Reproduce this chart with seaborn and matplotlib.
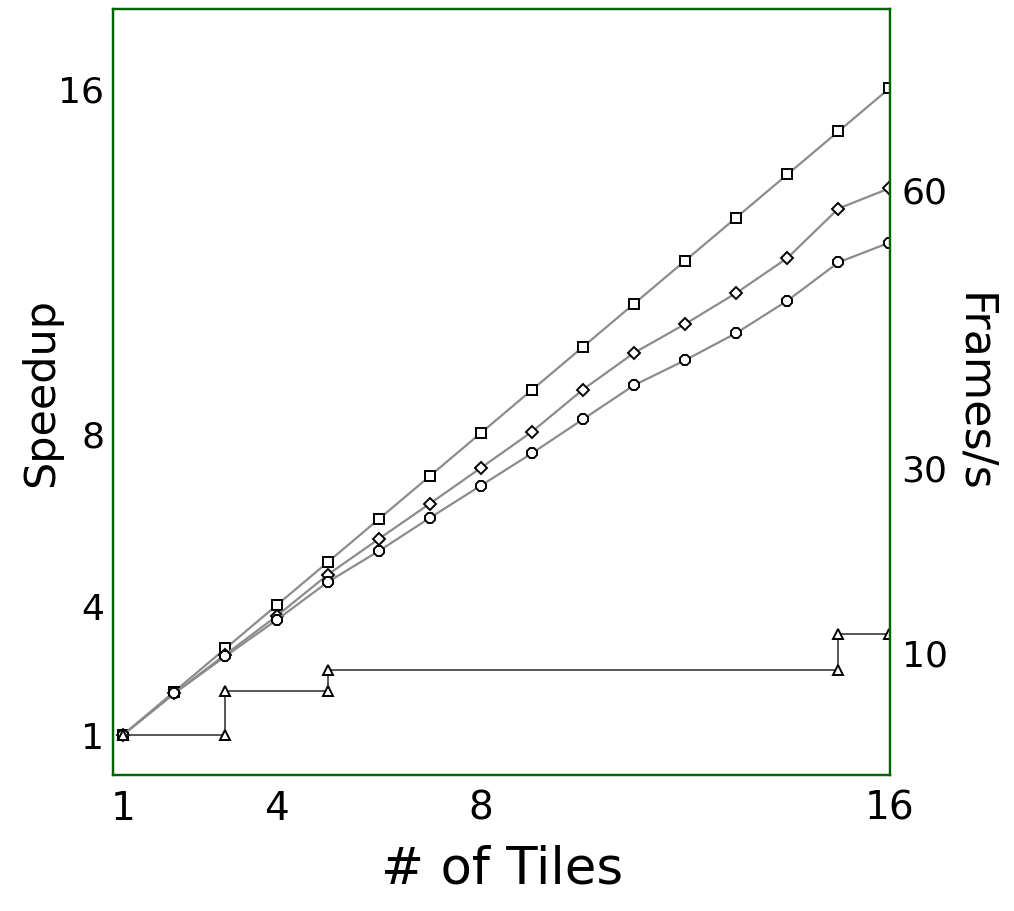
import matplotlib
matplotlib.use("Agg")
import matplotlib.pyplot as plt
import seaborn as sns
import pandas as pd

# datos
tiles = list(range(1, 17))
speedup_ideal = [1, 2, 3, 4, 5, 6, 7, 8, 9, 10, 11, 12, 13, 14, 15, 16]
speedup_rombo = [1, 1.96, 2.86, 3.75, 4.71, 5.54, 6.36, 7.19, 8.03, 9.01, 9.86, 10.53, 11.25, 12.06, 13.21, 13.68]
speedup_circulo = [1, 1.96, 2.82, 3.66, 4.54, 5.26, 6.03, 6.78, 7.53, 8.32, 9.11, 9.69, 10.32, 11.07, 11.96, 12.42]

# escalones (triangulos)
tiles_escalon = [1, 3, 3, 5, 5, 15, 15, 16]
speedup_escalon = [1.0, 1.0, 2.01, 2.01, 2.5, 2.5, 3.34, 3.34]

xticks = [1, 4, 8, 16]
yticks_izq = [1, 4, 8, 16]
yticks_der = [10, 30, 60]

sns.set_style("white")
plt.rcParams["font.family"] = ["DejaVu Sans"]
plt.rcParams["text.color"] = "black"
plt.rcParams["axes.labelcolor"] = "black"
plt.rcParams["xtick.color"] = "black"
plt.rcParams["ytick.color"] = "black"

fig = plt.figure(figsize=(10.14, 9.12), dpi=100)
ax = fig.add_axes([0.1111, 0.1495, 0.7671, 0.8395])

gris = "#8c8c8c"
estilo_marca = dict(markerfacecolor="white", markeredgecolor="black", markeredgewidth=1.4)

for valores, marca, tam in [(speedup_ideal, "s", 7), (speedup_rombo, "D", 6.5), (speedup_circulo, "8", 8.5)]:
    df = pd.DataFrame({"tiles": tiles, "speedup": valores})
    sns.lineplot(data=df, x="tiles", y="speedup", ax=ax, color=gris, linewidth=1.6,
                 marker=marca, markersize=tam, **estilo_marca)

df_esc = pd.DataFrame({"tiles": tiles_escalon, "speedup": speedup_escalon})
sns.lineplot(data=df_esc, x="tiles", y="speedup", ax=ax, color="#2a2a2a", linewidth=1.1,
             marker="^", markersize=7.5, sort=False, estimator=None, **estilo_marca)

ax.set_xlim(0.792, 16.02)
ax.set_ylim(0.072, 17.84)
ax.set_xticks(xticks)
ax.set_yticks(yticks_izq)
ax.tick_params(length=0, pad=6)
ax.tick_params(axis="y", labelsize=26)
ax.tick_params(axis="x", labelsize=28, pad=10)
ax.set_xlabel("# of Tiles", fontsize=37, labelpad=12)
ax.set_ylabel("Speedup", fontsize=31, labelpad=-3)

ax2 = ax.twinx()
ax2.set_ylim(-3.25, 79.44)
ax2.set_yticks(yticks_der)
ax2.tick_params(length=0, labelsize=26, pad=8)
ax2.set_ylabel("Frames/s", fontsize=32, rotation=-90, labelpad=34)

for a in (ax, ax2):
    for s in a.spines.values():
        s.set_color("#006400")
        s.set_linewidth(1.6)

fig.savefig("out.png", dpi=100)
